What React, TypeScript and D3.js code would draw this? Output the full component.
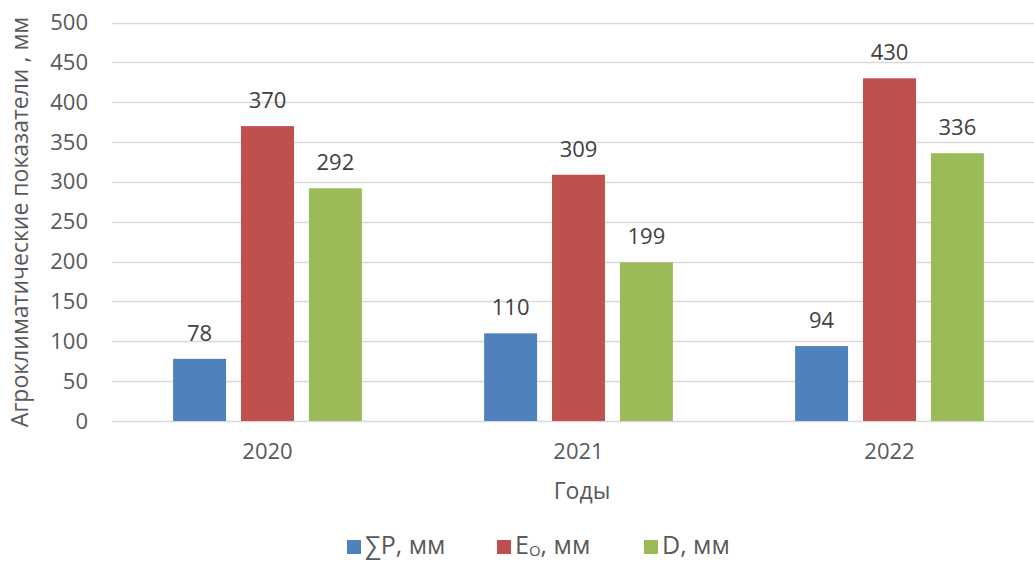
import React from "react";
import * as d3 from "d3";

const years = ["2020", "2021", "2022"];
const seriesKeys = ["P", "E", "D"];
const precipitation = [78, 110, 94];
const evaporation = [370, 309, 430];
const deficit = [292, 199, 336];
const seriesColors = ["#4f81bd", "#c0504d", "#9bbb59"];
const yTicks = [0, 50, 100, 150, 200, 250, 300, 350, 400, 450, 500];

const W = 1034;
const H = 563;
const plot = { left: 112, right: 1045, top: 22.5, bottom: 421 };
const FONT = "'Open Sans', 'Noto Sans', sans-serif";
const TEXT = "#595959";

export default function App() {
  const values = [precipitation, evaporation, deficit];
  const x0 = d3.scaleBand<string>().domain(years).range([plot.left, plot.right]).paddingInner(0).paddingOuter(0);
  const x1 = d3
    .scaleBand<string>()
    .domain(seriesKeys)
    .range([0, x0.bandwidth()])
    .paddingInner(0.22)
    .paddingOuter(0.9);
  const y = d3.scaleLinear().domain([0, 500]).range([plot.bottom, plot.top]);

  const legendItems = [
    { x: 347, color: seriesColors[0], key: "P" },
    { x: 497, color: seriesColors[1], key: "E" },
    { x: 644, color: seriesColors[2], key: "D" },
  ];

  return (
    <svg
      width={W}
      height={H}
      style={{ position: "absolute", left: 0, top: 0, background: "#fff" }}
      fontFamily={FONT}
    >
      {/* gridlines */}
      {yTicks.map((t) => (
        <line
          key={t}
          x1={plot.left}
          x2={plot.right}
          y1={Math.round(y(t)) + 0.5}
          y2={Math.round(y(t)) + 0.5}
          stroke="#d9d9d9"
          strokeWidth={1.3}
        />
      ))}
      {/* y tick labels */}
      {yTicks.map((t) => (
        <text key={t} x={88} y={y(t) + 7.5} textAnchor="end" fontSize={22} fill={TEXT}>
          {t}
        </text>
      ))}
      {/* bars and value labels */}
      {years.map((yr, i) => (
        <g key={yr} transform={`translate(${x0(yr)},0)`}>
          {seriesKeys.map((k, s) => {
            const v = values[s][i];
            return (
              <g key={k}>
                <rect
                  x={x1(k)}
                  y={y(v)}
                  width={x1.bandwidth()}
                  height={y(0) - y(v)}
                  fill={seriesColors[s]}
                />
                <text
                  x={(x1(k) as number) + x1.bandwidth() / 2}
                  y={y(v) - 18}
                  textAnchor="middle"
                  fontSize={22}
                  fill="#404040"
                >
                  {v}
                </text>
              </g>
            );
          })}
          <text
            x={x0.bandwidth() / 2}
            y={459}
            textAnchor="middle"
            fontSize={22}
            fill={TEXT}
          >
            {yr}
          </text>
        </g>
      ))}
      {/* axis titles */}
      <text x={582} y={499} textAnchor="middle" fontSize={23} fill={TEXT}>
        Годы
      </text>
      <text
        transform="translate(28,222) rotate(-90)"
        textAnchor="middle"
        fontSize={23}
        fill={TEXT}
      >
        Агроклиматические показатели , мм
      </text>
      {/* legend */}
      {legendItems.map((it) => (
        <g key={it.key}>
          <rect x={it.x} y={540} width={14} height={14} fill={it.color} />
          <text x={it.x + 18} y={554} fontSize={25} fill={TEXT}>
            {it.key === "P" && "∑P, мм"}
            {it.key === "E" && (
              <>
                E
                <tspan fontSize={15} dy={2}>
                  O
                </tspan>
                <tspan dy={-2}>, мм</tspan>
              </>
            )}
            {it.key === "D" && "D, мм"}
          </text>
        </g>
      ))}
    </svg>
  );
}
